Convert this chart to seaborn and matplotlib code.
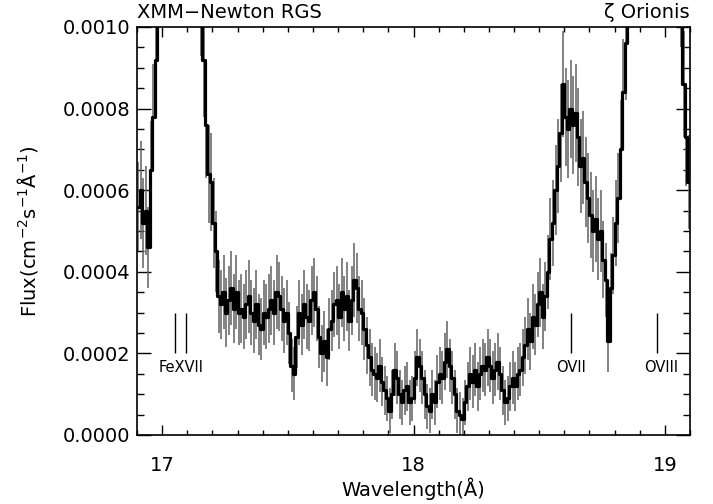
import numpy as np
import pandas as pd
import matplotlib
matplotlib.use("Agg")
import matplotlib.pyplot as plt
import seaborn as sns
from matplotlib.ticker import MultipleLocator, FormatStrFormatter

# ---- data (flux and 1-sigma errors in units of 1e-4 cm^-2 s^-1 A^-1) ----
wave_start = 16.905      # first bin centre (A)
bin_width = 0.01         # A
flux_e4 = [
    5.6, 6.0, 5.2, 5.5, 4.6, 6.5, 7.8, 9.2, 11.5, 13.5,
    15, 18, 22, 28, 34, 30, 24, 21, 24, 30,
    27, 20, 18, 14, 12, 10.8, 9.2, 7.6, 6.4, 6.2,
    5.2, 4.5, 3.4, 3.2, 3.5, 3.0, 3.3, 3.6, 3.1, 3.5,
    3.0, 3.1, 2.9, 3.2, 3.4, 3.0, 2.8, 3.2, 2.7, 2.6,
    3.0, 2.9, 3.1, 3.3, 3.0, 3.5, 3.4, 3.1, 2.8, 3.0,
    2.5, 1.7, 1.5, 2.4, 3.0, 2.7, 3.2, 2.9, 2.8, 3.3,
    3.5, 3.1, 2.4, 2.0, 2.3, 1.9, 2.6, 2.8, 3.2, 3.3,
    2.9, 3.5, 3.1, 3.4, 2.8, 3.3, 3.8, 3.6, 3.1, 3.0,
    2.6, 2.2, 1.9, 1.6, 1.5, 1.4, 1.7, 1.3, 1.1, 0.9,
    0.6, 1.0, 1.6, 1.4, 1.0, 0.8, 1.1, 1.2, 0.8, 0.9,
    1.4, 1.9, 1.7, 1.4, 1.0, 0.7, 0.6, 1.0, 0.8, 1.3,
    1.5, 1.4, 1.8, 2.1, 1.7, 1.4, 1.0, 0.6, 0.5, 0.4,
    0.8, 1.2, 1.5, 1.3, 1.6, 1.2, 1.5, 1.7, 1.6, 1.9,
    1.7, 1.4, 1.6, 1.8, 1.5, 1.1, 0.8, 0.9, 1.2, 1.4,
    1.2, 1.5, 1.6, 1.9, 2.2, 2.6, 2.3, 2.9, 2.7, 3.2,
    3.5, 2.9, 3.4, 4.0, 4.8, 5.2, 6.0, 6.6, 7.4, 8.6,
    7.8, 7.5, 8.0, 7.6, 7.9, 7.3, 6.6, 6.8, 6.2, 5.8,
    5.4, 5.0, 5.3, 4.8, 5.0, 4.3, 3.8, 2.3, 3.6, 4.4,
    5.2, 5.8, 7.0, 8.4, 9.6, 11.5, 13, 15, 17, 20,
    23, 27, 31, 35, 40, 44, 46, 43, 38, 33,
    28, 24, 20, 17, 14.5, 12.5, 11, 8.6, 7.3, 6.2,
]
err_e4 = [
    1.1, 1.2, 1.1, 1.1, 1.0, 1.2, 1.3, 1.4, 1.5, 1.7,
    1.7, 1.9, 2.1, 2.3, 2.5, 2.4, 2.2, 2.0, 2.2, 2.4,
    2.3, 2.0, 1.9, 1.7, 1.6, 1.5, 1.4, 1.3, 1.2, 1.2,
    1.1, 1.0, 0.9, 0.85, 0.9, 0.85, 0.85, 0.9, 0.85, 0.9,
    0.8, 0.85, 0.8, 0.85, 0.9, 0.8, 0.8, 0.85, 0.75, 0.75,
    0.8, 0.8, 0.85, 0.85, 0.8, 0.9, 0.85, 0.8, 0.8, 0.8,
    0.75, 0.65, 0.65, 0.75, 0.8, 0.75, 0.85, 0.8, 0.75, 0.85,
    0.85, 0.8, 0.75, 0.7, 0.75, 0.7, 0.75, 0.75, 0.8, 0.85,
    0.8, 0.85, 0.8, 0.85, 0.75, 0.85, 0.9, 0.85, 0.8, 0.8,
    0.75, 0.7, 0.7, 0.65, 0.65, 0.6, 0.65, 0.6, 0.6, 0.55,
    0.55, 0.6, 0.65, 0.65, 0.6, 0.55, 0.6, 0.6, 0.55, 0.55,
    0.65, 0.7, 0.65, 0.65, 0.6, 0.55, 0.55, 0.6, 0.55, 0.65,
    0.65, 0.65, 0.7, 0.7, 0.65, 0.65, 0.6, 0.55, 0.55, 0.5,
    0.55, 0.6, 0.65, 0.65, 0.65, 0.6, 0.65, 0.65, 0.65, 0.7,
    0.65, 0.65, 0.65, 0.7, 0.65, 0.6, 0.55, 0.55, 0.6, 0.65,
    0.6, 0.65, 0.65, 0.7, 0.7, 0.75, 0.7, 0.8, 0.75, 0.8,
    0.85, 0.8, 0.85, 0.9, 1.0, 1.05, 1.1, 1.15, 1.2, 1.3,
    1.2, 1.2, 1.2, 1.2, 1.2, 1.2, 1.15, 1.15, 1.1, 1.1,
    1.05, 1.0, 1.05, 1.0, 1.0, 0.95, 0.9, 0.75, 0.85, 0.95,
    1.05, 1.1, 1.2, 1.3, 1.4, 1.5, 1.6, 1.7, 1.8, 1.9,
    2.0, 2.2, 2.3, 2.4, 2.6, 2.7, 2.7, 2.6, 2.5, 2.3,
    2.2, 2.0, 1.9, 1.7, 1.6, 1.5, 1.5, 1.3, 1.2, 1.15,
]
line_names = ["FeXVII", "OVII", "OVIII"]
line_waves = [[17.051, 17.096], [18.627], [18.969]]
label_waves = [17.075, 18.627, 18.985]

wave = wave_start + bin_width * np.arange(len(flux_e4))
flux = np.array(flux_e4) * 1e-4
err = np.array(err_e4) * 1e-4
df = pd.DataFrame({"wave": wave, "flux": flux})

sns.set_style("ticks")
plt.rcParams["font.family"] = ["DejaVu Sans"]
plt.rcParams["mathtext.fontset"] = "dejavusans"
plt.rcParams["text.color"] = "black"
plt.rcParams["axes.labelcolor"] = "black"
plt.rcParams["xtick.color"] = "black"
plt.rcParams["ytick.color"] = "black"

fig = plt.figure(figsize=(7.13, 5.04), dpi=100)
ax = fig.add_axes([137 / 713, 1 - 435 / 504, (690 - 137) / 713, (435 - 27) / 504])

ax.vlines(wave, flux - err, flux + err, color="0.38", lw=1.1, zorder=2)
sns.lineplot(data=df, x="wave", y="flux", drawstyle="steps-mid", color="black",
             lw=2.3, estimator=None, ax=ax, zorder=3)

for name, lw_list, lab in zip(line_names, line_waves, label_waves):
    for lw_ in lw_list:
        ax.vlines(lw_, 0.0002, 0.0003, color="black", lw=1.0, zorder=4)
    ax.text(lab, 0.000165, name, ha="center", va="center", fontsize=10.5,
            color="black", zorder=4)

ax.set_xlim(16.9, 19.1)
ax.set_ylim(0, 0.0010)
ax.xaxis.set_major_locator(MultipleLocator(1))
ax.xaxis.set_minor_locator(MultipleLocator(0.1))
ax.yaxis.set_major_locator(MultipleLocator(0.0002))
ax.yaxis.set_minor_locator(MultipleLocator(0.00005))
ax.yaxis.set_major_formatter(FormatStrFormatter("%.4f"))
ax.xaxis.set_major_formatter(FormatStrFormatter("%d"))

ax.tick_params(axis="both", which="both", direction="in", top=True, right=True,
               colors="black", labelcolor="black", width=1.0)
ax.tick_params(axis="x", which="major", length=7, pad=15, labelsize=14)
ax.tick_params(axis="x", which="minor", length=3.5)
ax.tick_params(axis="y", which="major", length=10, pad=5, labelsize=14)
ax.tick_params(axis="y", which="minor", length=5)
for s in ax.spines.values():
    s.set_color("black")
    s.set_linewidth(1.2)

ax.set_xlabel("Wavelength(Å)", fontsize=14, color="black")
ax.set_ylabel(r"Flux(cm$^{-2}$s$^{-1}$Å$^{-1}$)", fontsize=14, color="black")
ax.xaxis.set_label_coords(0.5, -0.105)
ax.yaxis.set_label_coords(-0.175, 0.5)

ax.text(0.0, 1.012, "XMM\u2212Newton RGS", transform=ax.transAxes, ha="left",
        va="bottom", fontsize=14, color="black")
ax.text(1.0, 1.012, "\u03b6 Orionis", transform=ax.transAxes, ha="right",
        va="bottom", fontsize=14, color="black")

fig.savefig("out.png", dpi=100)
